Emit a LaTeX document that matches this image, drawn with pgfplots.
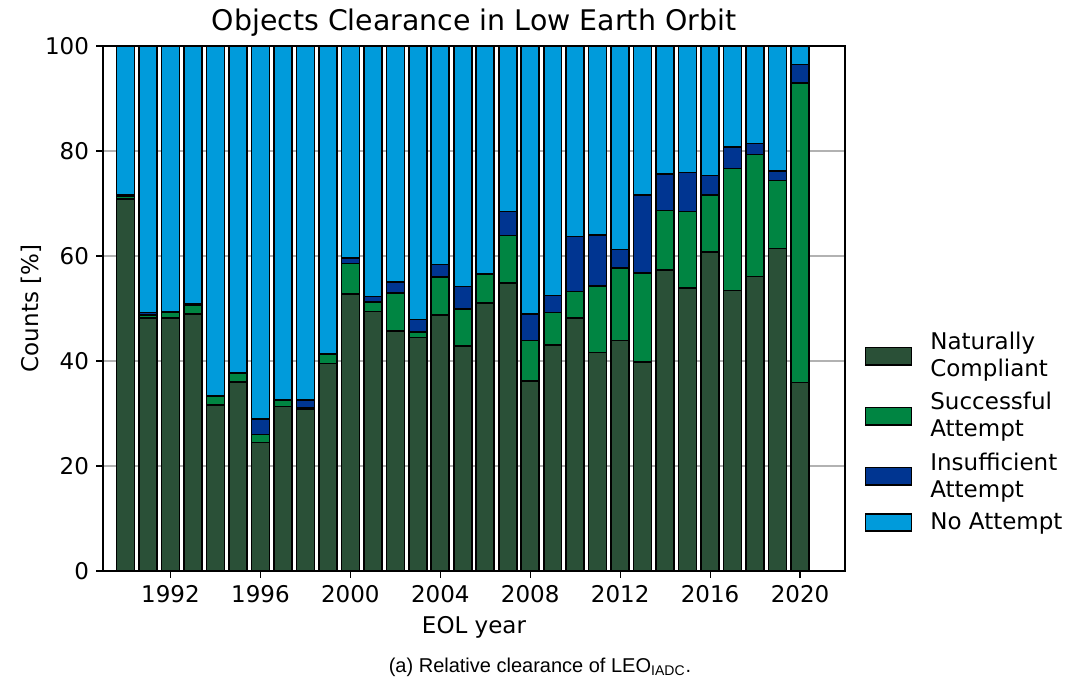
\documentclass[border=0pt]{standalone}
\usepackage{pgfplots}
\usepackage{pgfplotstable}
\pgfplotsset{compat=1.18}
\usepackage{fontspec}
\setmainfont{DejaVu Sans}
\newfontfamily\capfont{Liberation Sans}

\definecolor{natcomp}{HTML}{2A5037}
\definecolor{success}{HTML}{008542}
\definecolor{insuff}{HTML}{003591}
\definecolor{noatt}{HTML}{009BDB}

% year, naturally compliant, successful, insufficient, no attempt [%]
\pgfplotstableread{
year  nc    sa    ia    na
1990  70.9  0.5   0.3   28.3
1991  48.2  0.6   0.4   50.8
1992  48.2  1.0   0.2   50.6
1993  49.0  1.7   0.1   49.2
1994  31.6  1.6   0.1   66.7
1995  36.0  1.6   0.1   62.3
1996  24.5  1.5   2.9   71.1
1997  31.3  1.3   0.1   67.3
1998  30.9  0.1   1.6   67.4
1999  39.5  1.8   0.1   58.6
2000  52.8  5.8   1.0   40.4
2001  49.4  1.8   1.1   47.7
2002  45.7  7.3   2.1   44.9
2003  44.5  1.0   2.4   52.1
2004  48.8  7.2   2.4   41.6
2005  42.8  7.1   4.3   45.8
2006  51.0  5.6   0.1   43.3
2007  54.9  9.0   4.6   31.5
2008  36.2  7.7   5.0   51.1
2009  43.0  6.2   3.3   47.5
2010  48.2  5.0   10.5  36.3
2011  41.6  12.7  9.7   36.0
2012  43.9  13.8  3.5   38.8
2013  39.8  17.0  14.8  28.4
2014  57.3  11.4  6.9   24.4
2015  53.9  14.6  7.4   24.1
2016  60.8  10.8  3.7   24.7
2017  53.4  23.3  4.1   19.2
2018  56.1  23.2  2.1   18.6
2019  61.4  13.0  1.8   23.8
2020  35.9  57.1  3.5   3.5
}\clearance

\begin{document}
\begin{tikzpicture}
\begin{axis}[
    scale only axis,
    width=371pt, height=262.5pt,
    ybar stacked,
    bar width=0.8,
    xmin=1989, xmax=2022,
    ymin=0, ymax=100,
    xtick={1992,1996,...,2020},
    ytick={0,20,...,100},
    /pgf/number format/assume math mode=true,
    xticklabel style={/pgf/number format/1000 sep={}},
    tick align=outside,
    xtick pos=bottom, ytick pos=left,
    major tick length=3.5pt,
    tick style={black, line width=0.6pt},
    axis line style={line width=0.6pt},
    ymajorgrids,
    grid style={line width=0.6pt, color=black!30},
    ticklabel style={font=\fontsize{11.5}{13}\selectfont},
    label style={font=\fontsize{11.5}{13}\selectfont},
    ylabel shift=-5pt,
    title style={font=\fontsize{14.2}{16}\selectfont, yshift=-4.5pt},
    title={Objects Clearance in Low Earth Orbit},
    xlabel={EOL year},
    ylabel={Counts [\%]},
    every axis plot/.append style={draw=black, line width=0.8pt},
    legend style={draw=none, fill=none, at={(rel axis cs:1.018,0.264)}, anchor=west,
        font=\fontsize{11.5}{13.5}\selectfont,
        cells={anchor=west, align=left}, row sep=2.3pt},
    legend image code/.code={\draw[#1] (0pt,-4.3pt) rectangle (23pt,4.3pt);
        \path (30pt,0pt);},
]
\addplot[fill=natcomp] table[x=year, y=nc] {\clearance};
\addplot[fill=success] table[x=year, y=sa] {\clearance};
\addplot[fill=insuff] table[x=year, y=ia] {\clearance};
\addplot[fill=noatt] table[x=year, y=na] {\clearance};
\legend{Naturally\\Compliant, Successful\\Attempt, Insufficient\\Attempt, No Attempt}
\end{axis}
\node[font=\capfont\fontsize{10}{12}\selectfont] at (218.5pt,-48pt)
    {(a) Relative clearance of LEO\textsubscript{IADC}.};
\pgfresetboundingbox
\path[use as bounding box] (-51.5pt,-56.5pt) rectangle (486pt,285.5pt);
\end{tikzpicture}
\end{document}
